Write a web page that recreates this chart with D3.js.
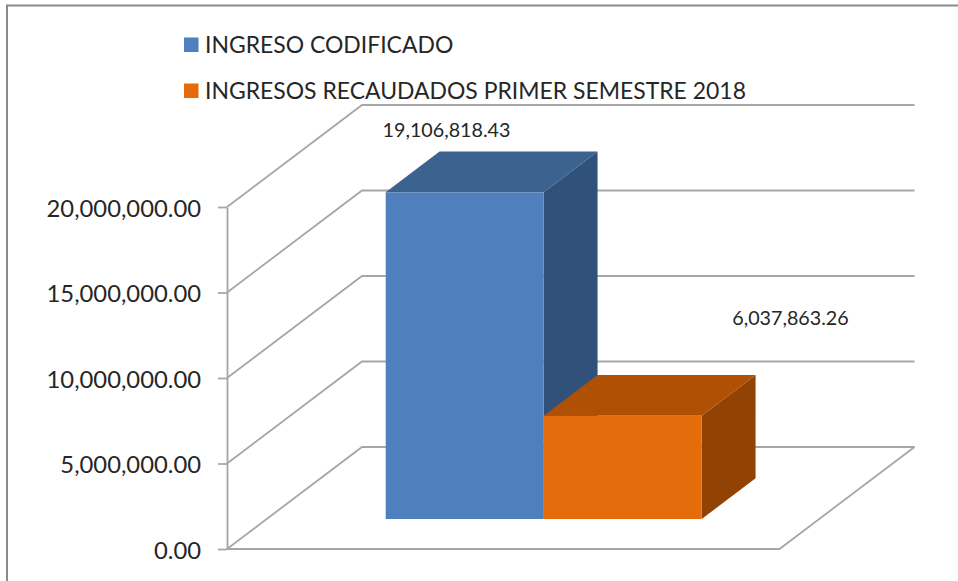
<!DOCTYPE html>
<html>
<head>
<meta charset="utf-8">
<script src="https://cdn.jsdelivr.net/npm/d3@7/dist/d3.min.js"></script>
<style>
html,body{margin:0;padding:0;background:#fff}
svg{display:block}
text{font-family:Lato,"Open Sans",sans-serif;fill:#262626}
</style>
</head>
<body>
<svg id="chart" width="958" height="581"></svg>
<script>
const seriesNames = ["INGRESO CODIFICADO", "INGRESOS RECAUDADOS PRIMER SEMESTRE 2018"];
const seriesValues = [19106818.43, 6037863.26];
const tickValues = [0, 5000000, 10000000, 15000000, 20000000];
const frontColors = ["#4F7FBC", "#E46C0A"];
const topColors = ["#3C6290", "#AF5004"];
const sideColors = ["#30527A", "#924202"];

const svg = d3.select("#chart");
const fmt = d3.format(",.2f");
const gridColor = "#A6A6A6";
const gridWidth = 1.8;

// Oblique projection of the 3D box
const depth = {dx: 135, dy: -102};
const floor = {x0: 227, x1: 779.5};
const y = d3.scaleLinear().domain([0, 20000000]).range([549, 207]);
const px = (x, t) => x + t * depth.dx;
const py = (yy, t) => yy + t * depth.dy;

// Frame
svg.append("path").attr("d", "M7,581V5.5H958").attr("fill", "none")
  .attr("stroke", "#8a8a8a").attr("stroke-width", 2);

// Gridlines + floor
const line = d3.line();
svg.append("g").selectAll("path").data(tickValues).join("path")
  .attr("fill", "none").attr("stroke", gridColor).attr("stroke-width", gridWidth)
  .attr("d", d => line([
    [px(floor.x0, 0), py(y(d), 0)],
    [px(floor.x0, 1), py(y(d), 1)],
    [px(floor.x1, 1), py(y(d), 1)]
  ]));
svg.append("path").attr("fill", "none").attr("stroke", gridColor).attr("stroke-width", gridWidth)
  .attr("d", line([
    [px(floor.x0, 0), y(0)],
    [px(floor.x1, 0), y(0)],
    [px(floor.x1, 1), py(y(0), 1)]
  ]));

// Axis
const axis = d3.axisLeft(y).tickValues(tickValues).tickFormat(fmt).tickSize(9).tickSizeOuter(0).tickPadding(17);
const gAxis = svg.append("g").attr("transform", "translate(227,0)").call(axis);
gAxis.selectAll("path,line").attr("stroke", gridColor).attr("stroke-width", gridWidth);
gAxis.selectAll("text").attr("font-size", 23.8).attr("dy", "0.38em")
  .style("font-family", "Lato,'Open Sans',sans-serif");

// Bars
const barScale = d3.scaleBand().domain(seriesNames).range([385.7, 701.7]);
const tFront = 0.294, tBack = 0.693;
const bw = barScale.bandwidth();
const baseY = py(y(0), tFront);
const barPx = v => y(0) - y(v); // height of a value in pixels

const bars = svg.append("g").selectAll("g").data(seriesNames.map((n, i) => ({n, i, v: seriesValues[i]}))).join("g");
const offX = (tBack - tFront) * depth.dx, offY = (tBack - tFront) * depth.dy;
bars.append("path").attr("fill", d => sideColors[d.i]).attr("d", d => {
  const x = barScale(d.n) + bw, yt = baseY - barPx(d.v);
  return line([[x, baseY], [x, yt], [x + offX, yt + offY], [x + offX, baseY + offY]]) + "Z";
});
bars.append("path").attr("fill", d => topColors[d.i]).attr("d", d => {
  const x = barScale(d.n), yt = baseY - barPx(d.v);
  return line([[x, yt], [x + bw, yt], [x + bw + offX, yt + offY], [x + offX, yt + offY]]) + "Z";
});
bars.append("rect").attr("fill", d => frontColors[d.i])
  .attr("x", d => barScale(d.n)).attr("width", bw)
  .attr("y", d => baseY - barPx(d.v)).attr("height", d => barPx(d.v));

// Data labels
const labelPos = [[446.5, 137], [790.5, 325]];
svg.append("g").selectAll("text").data(seriesValues).join("text")
  .attr("x", (d, i) => labelPos[i][0]).attr("y", (d, i) => labelPos[i][1])
  .attr("text-anchor", "middle")
  .attr("font-size", 19.7).text(d => fmt(d));

// Legend
const legendY = [44.5, 90.5];
const lg = svg.append("g").selectAll("g").data(seriesNames).join("g");
lg.append("rect").attr("x", 184).attr("y", (d, i) => legendY[i] - 7).attr("width", 14.5).attr("height", 14.5)
  .attr("fill", (d, i) => frontColors[i]);
lg.append("text").attr("x", 205).attr("y", (d, i) => legendY[i] + 8.2)
  .attr("font-size", 22.95).text(d => d);
</script>
</body>
</html>
